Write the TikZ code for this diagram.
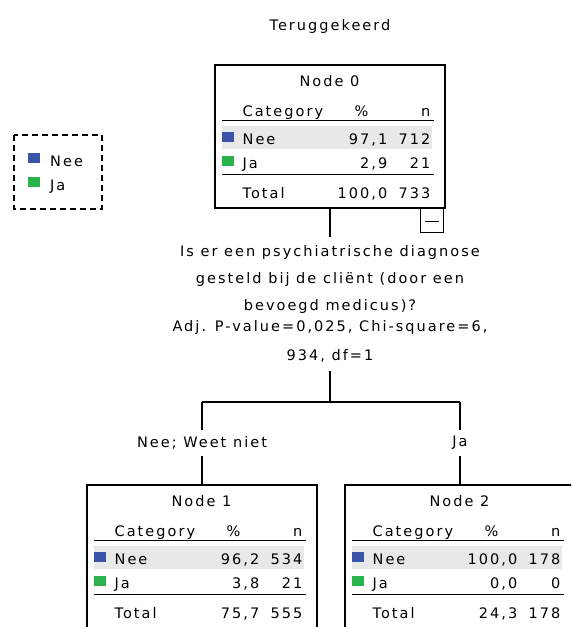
\documentclass[tikz,border=0pt]{standalone}
\usepackage{fontspec}
\setmainfont{DejaVu Sans}[LetterSpace=14]
\usepackage[HTML]{xcolor}
\usetikzlibrary{positioning}

\definecolor{neeblue}{HTML}{3A55A8}
\definecolor{jagreen}{HTML}{2BB34B}
\definecolor{rowgrey}{HTML}{E8E8E8}

\tikzset{
  treebox/.style={draw, line width=1.1pt, minimum width=230pt, minimum height=143pt, inner sep=0pt},
  tablerule/.style={line width=1.6pt},
  txt/.style={inner sep=0pt, font=\fontsize{14.5}{17}\selectfont},
  conn/.style={line width=1.1pt}
}

\begin{document}
\begin{tikzpicture}[x=1pt, y=-1pt]
\clip (0,0) rectangle (571,627);
\fill[white] (0,0) rectangle (571,627);

% dependent variable
\node[txt, anchor=base] (dep) at (330,30) {Teruggekeerd};

% legend
\draw[line width=1.1pt, dash pattern=on 6pt off 4pt] (14,135) rectangle (102,209);
\fill[neeblue] (28,153) rectangle (40,163);
\node[txt, anchor=base west] (legnee) at (50,166) {Nee};
\fill[jagreen] (28,177) rectangle (40,187);
\node[txt, anchor=base west] (legja) at (50,190) {Ja};

% tree nodes
\node[treebox] (n0) at (330,136.5) {};
\node[treebox] (n1) at (202,556.5) {};
\node[treebox] (n2) at (460,556.5) {};

% Node 0 table
\begin{scope}[shift={(n0.north west)}]
    \node[txt, anchor=base] at (115,22) {Node 0};
    \node[txt, anchor=base west] at (28,52) {Category};
    \node[txt, anchor=base] at (147,52) {\%};
    \node[txt, anchor=base east] at (216,52) {n};
    \draw[tablerule] (8,56) -- (220,56);
    \fill[rowgrey] (8,62) rectangle (218,85);
    \fill[neeblue] (8,68) rectangle (20,78);
    \node[txt, anchor=base west] at (28,80) {Nee};
    \node[txt, anchor=base east] at (173,80) {97,1};
    \node[txt, anchor=base east] at (216,80) {712};
    \fill[jagreen] (8,92) rectangle (20,102);
    \node[txt, anchor=base west] at (28,104) {Ja};
    \node[txt, anchor=base east] at (173,104) {2,9};
    \node[txt, anchor=base east] at (216,104) {21};
    \draw[tablerule] (8,110) -- (220,110);
    \node[txt, anchor=base west] at (28,134) {Total};
    \node[txt, anchor=base east] at (173,134) {100,0};
    \node[txt, anchor=base east] at (216,134) {733};
    % collapse box
    \draw[line width=1.1pt] (206,143) rectangle (229,168);
    \draw[line width=1.1pt] (211,157) -- (225,157);
\end{scope}

% Node 1 table
\begin{scope}[shift={(n1.north west)}]
    \node[txt, anchor=base] at (115,22) {Node 1};
    \node[txt, anchor=base west] at (28,52) {Category};
    \node[txt, anchor=base] at (147,52) {\%};
    \node[txt, anchor=base east] at (216,52) {n};
    \draw[tablerule] (8,56) -- (220,56);
    \fill[rowgrey] (8,62) rectangle (218,85);
    \fill[neeblue] (8,68) rectangle (20,78);
    \node[txt, anchor=base west] at (28,80) {Nee};
    \node[txt, anchor=base east] at (173,80) {96,2};
    \node[txt, anchor=base east] at (216,80) {534};
    \fill[jagreen] (8,92) rectangle (20,102);
    \node[txt, anchor=base west] at (28,104) {Ja};
    \node[txt, anchor=base east] at (173,104) {3,8};
    \node[txt, anchor=base east] at (216,104) {21};
    \draw[tablerule] (8,110) -- (220,110);
    \node[txt, anchor=base west] at (28,134) {Total};
    \node[txt, anchor=base east] at (173,134) {75,7};
    \node[txt, anchor=base east] at (216,134) {555};
\end{scope}

% Node 2 table
\begin{scope}[shift={(n2.north west)}]
    \node[txt, anchor=base] at (115,22) {Node 2};
    \node[txt, anchor=base west] at (28,52) {Category};
    \node[txt, anchor=base] at (147,52) {\%};
    \node[txt, anchor=base east] at (216,52) {n};
    \draw[tablerule] (8,56) -- (220,56);
    \fill[rowgrey] (8,62) rectangle (218,85);
    \fill[neeblue] (8,68) rectangle (20,78);
    \node[txt, anchor=base west] at (28,80) {Nee};
    \node[txt, anchor=base east] at (173,80) {100,0};
    \node[txt, anchor=base east] at (216,80) {178};
    \fill[jagreen] (8,92) rectangle (20,102);
    \node[txt, anchor=base west] at (28,104) {Ja};
    \node[txt, anchor=base east] at (173,104) {0,0};
    \node[txt, anchor=base east] at (216,104) {0};
    \draw[tablerule] (8,110) -- (220,110);
    \node[txt, anchor=base west] at (28,134) {Total};
    \node[txt, anchor=base east] at (173,134) {24,3};
    \node[txt, anchor=base east] at (216,134) {178};
\end{scope}

% split question
\node[txt, align=center, inner sep=8pt, font=\fontsize{14.5}{27}\selectfont] (q) at (330,304)
    {Is er een psychiatrische diagnose\\gesteld bij de cliënt (door een\\bevoegd medicus)?\\[-6pt]
     Adj. P-value=0,025, Chi-square=6,\\[2pt]934, df=1};

% branch labels
\coordinate (split) at (330,402);
\coordinate (lft) at (202,402);
\coordinate (rgt) at (460,402);
\node[txt, inner sep=6pt] (l1) at (202,443) {Nee; Weet niet};
\node[txt, inner sep=6pt] (l2) at (460,443) {Ja};

% connectors
\draw[conn] (n0.south) -- (q.north);
\draw[conn] (q.south) -- (split);
\draw[conn] (lft) -- (rgt);
\draw[conn] (lft) -- (l1.north);
\draw[conn] (l1.south) -- (n1.north);
\draw[conn] (rgt) -- (l2.north);
\draw[conn] (l2.south) -- (n2.north);
\end{tikzpicture}
\end{document}
